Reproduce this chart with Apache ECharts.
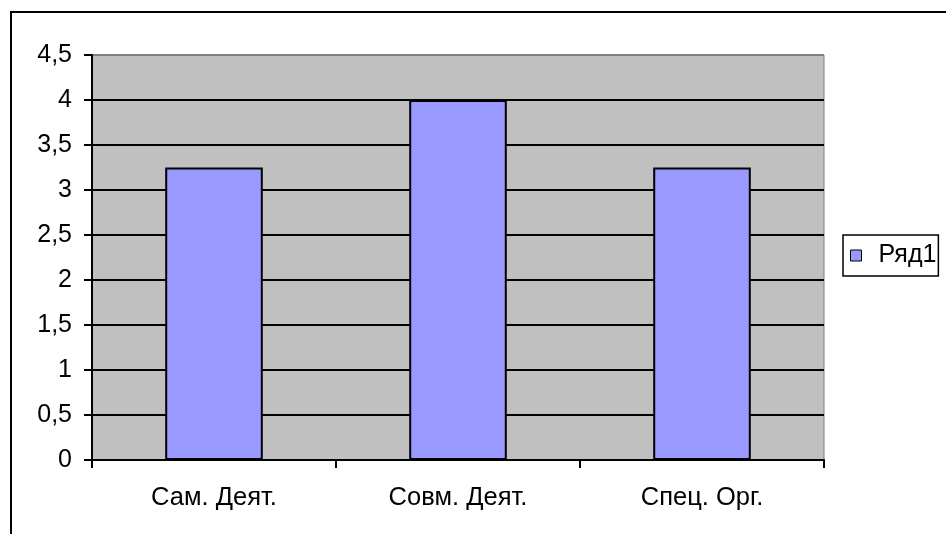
<!DOCTYPE html>
<html>
<head>
<meta charset="utf-8">
<script src="https://cdn.jsdelivr.net/npm/echarts@6/dist/echarts.min.js"></script>
<style>
    html, body { margin: 0; padding: 0; background: #fff; }
    #main { width: 946px; height: 534px; }
</style>
</head>
<body>
<div id="main"></div>
<script>
// data
const categories = ['Сам. Деят.', 'Совм. Деят.', 'Спец. Орг.'];
const seriesName = 'Ряд1';
const values = [3.25, 4, 3.25];

const FONT = '"Liberation Sans", Arial, sans-serif';

let chart = echarts.init(document.getElementById('main'), null, { renderer: 'canvas' });

// last split line (top edge at 4.5) is grey like the plot frame
let gridColors = ['#000', '#000', '#000', '#000', '#000', '#000', '#000', '#000', '#000', '#808080'];

let option = {
    animation: false,
    backgroundColor: '#fff',
    graphic: [
        {
            type: 'rect',
            shape: { x: 11, y: 12, width: 1000, height: 1000 },
            style: { fill: 'none', stroke: '#000', lineWidth: 2 },
            z: 100
        }
    ],
    grid: {
        left: 92,
        top: 55,
        right: 122,
        bottom: 74,
        show: true,
        backgroundColor: '#C0C0C0',
        borderColor: '#808080',
        borderWidth: 1
    },
    legend: {
        data: [seriesName],
        orient: 'vertical',
        left: 843,
        top: 235,
        padding: [8, 2, 8, 7],
        backgroundColor: '#fff',
        borderColor: '#000',
        borderWidth: 1.5,
        icon: 'rect',
        itemWidth: 11,
        itemHeight: 11,
        itemStyle: { color: '#9999FF', borderColor: '#000', borderWidth: 1 },
        textStyle: {
            fontFamily: FONT,
            fontSize: 25,
            color: '#000',
            padding: [0, 0, 0, 12]
        }
    },
    xAxis: {
        type: 'category',
        data: categories,
        boundaryGap: true,
        axisLine: { lineStyle: { color: '#000', width: 2 } },
        axisTick: { show: true, length: 8, inside: false, lineStyle: { color: '#000', width: 2 } },
        axisLabel: { fontFamily: FONT, fontSize: 25.5, color: '#000', margin: 25 },
        splitLine: { show: false }
    },
    yAxis: {
        type: 'value',
        min: 0,
        max: 4.5,
        interval: 0.5,
        axisLine: { show: true, lineStyle: { color: '#000', width: 2 } },
        axisTick: { show: true, length: 8, lineStyle: { color: '#000', width: 2 } },
        axisLabel: {
            fontFamily: FONT,
            fontSize: 25,
            color: '#000',
            margin: 20,
            formatter: (v) => String(v).replace('.', ',')
        },
        splitLine: { show: true, lineStyle: { color: gridColors, width: 2 } }
    },
    series: [
        {
            name: seriesName,
            type: 'bar',
            data: values,
            barWidth: '40%',
            itemStyle: { color: '#9999FF', borderColor: '#000', borderWidth: 2 }
        }
    ]
};

chart.setOption(option);
</script>
</body>
</html>
